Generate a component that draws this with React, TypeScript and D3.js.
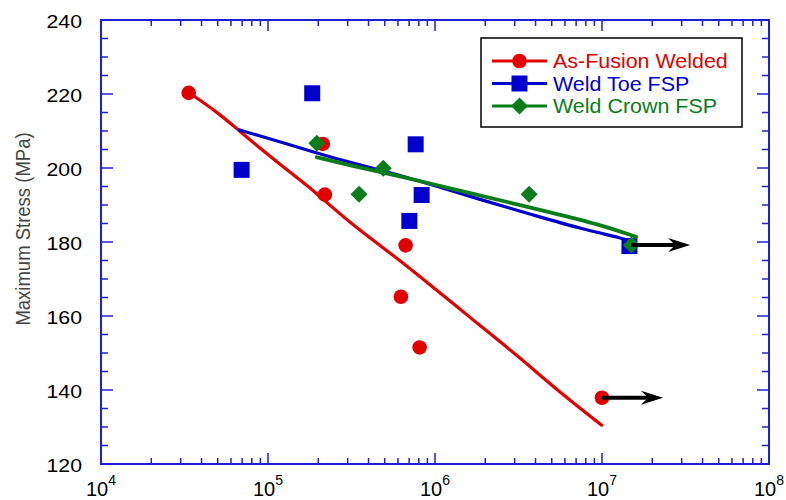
import React from 'react'
import * as d3 from 'd3'

const W = 786
const H = 500
const MARGIN = { top: 20, right: 17, bottom: 36, left: 101 }

const AXIS_COLOR = '#1f1fd6'
const FONT = '"Liberation Sans", Arial, sans-serif'

// As-Fusion Welded: test points (cycles, MPa)
const fusionN = [33500, 213000, 219000, 667000, 625000, 809000, 1.0e7]
const fusionS = [220.3, 206.5, 192.8, 179.1, 165.2, 151.5, 137.9]
// fitted curve
const fusionFitN = [33800, 49300, 66400, 93800, 135600, 186700, 309700, 562000, 1.023e6, 1.694e6, 3.08e6, 5.61e6, 9.95e6]
const fusionFitS = [220.3, 215.2, 210.3, 204.6, 198.8, 194.0, 185.1, 176.5, 167.0, 158.9, 149.5, 139.3, 130.5]

// Weld Toe FSP
const toeN = [69500, 184000, 766000, 832000, 702000, 1.46e7]
const toeS = [199.5, 220.2, 206.4, 192.7, 185.7, 178.9]
const toeFitN = [67300, 85500, 118000, 170600, 270000, 490000, 977000, 1.946e6, 3.88e6, 7.73e6, 1.34e7, 1.535e7]
const toeFitS = [210.3, 208.9, 207.1, 204.9, 202.2, 199.3, 195.4, 191.2, 187.3, 183.4, 181.0, 180.0]

// Weld Crown FSP
const crownN = [196000, 490000, 351000, 3.66e6, 1.5e7]
const crownS = [206.7, 199.9, 192.9, 192.9, 179.2]
const crownFitN = [196000, 309700, 616000, 1.23e6, 2.45e6, 4.89e6, 9.73e6, 1.6e7]
const crownFitS = [202.9, 200.7, 197.8, 194.5, 191.3, 188.0, 184.7, 181.4]

// run-out arrows
const arrowFromN = [1.0e7, 1.5e7]
const arrowToN = [2.32e7, 3.37e7]
const arrowS = [137.9, 179.2]

const legendLabels = ['As-Fusion Welded', 'Weld Toe FSP', 'Weld Crown FSP']
const colors = ['#e00000', '#0000cc', '#0a7d1a']

const yMajor = d3.range(120, 241, 20)
const yMinor = d3.range(120, 241, 5).filter((v) => v % 20 !== 0)
const xMajorExp = [4, 5, 6, 7, 8]

const zip = (a: number[], b: number[]) => a.map((v, i) => [v, b[i]] as [number, number])

const Marker = ({ type, x, y, color }: { type: number; x: number; y: number; color: string }) => {
  if (type === 0) return <circle cx={x} cy={y} r={7.3} fill={color} />
  if (type === 1) return <rect x={x - 8} y={y - 8} width={16} height={16} fill={color} />
  const d = 8.5
  return <path d={`M${x},${y - d}L${x + d},${y}L${x},${y + d}L${x - d},${y}Z`} fill={color} />
}

export default function App() {
  const x = d3.scaleLog().domain([1e4, 1e8]).range([MARGIN.left, W - MARGIN.right])
  const y = d3.scaleLinear().domain([120, 240]).range([H - MARGIN.bottom, MARGIN.top])
  const line = d3
    .line<[number, number]>()
    .x((d) => x(d[0]))
    .y((d) => y(d[1]))
    .curve(d3.curveBasis)

  const x0 = MARGIN.left
  const x1 = W - MARGIN.right
  const y0 = H - MARGIN.bottom
  const y1 = MARGIN.top

  const xMinor: number[] = []
  for (let e = 4; e < 8; e++) for (let k = 2; k <= 9; k++) xMinor.push(k * Math.pow(10, e))

  const series = [
    { pts: zip(fusionN, fusionS), fit: zip(fusionFitN, fusionFitS), width: 3.2 },
    { pts: zip(toeN, toeS), fit: zip(toeFitN, toeFitS), width: 3.2 },
    { pts: zip(crownN, crownS), fit: zip(crownFitN, crownFitS), width: 3.8 },
  ]

  const legend = { x: 481, y: 38, w: 261, h: 89 }
  const rowY = [61, 83.5, 106]

  return (
    <svg width={W} height={H} style={{ position: 'absolute', left: 0, top: 0, background: '#fff' }}>
      {/* frame */}
      <rect x={x0} y={y1} width={x1 - x0} height={y0 - y1} fill="none" stroke={AXIS_COLOR} strokeWidth={2} />

      {/* x ticks (bottom and top, inward) */}
      {xMinor.map((v) => (
        <g key={`xm${v}`} stroke={AXIS_COLOR} strokeWidth={1.5}>
          <line x1={x(v)} x2={x(v)} y1={y0} y2={y0 - 6} />
          <line x1={x(v)} x2={x(v)} y1={y1} y2={y1 + 6} />
        </g>
      ))}
      {xMajorExp.map((e) => (
        <g key={`xM${e}`} stroke={AXIS_COLOR} strokeWidth={1.5}>
          <line x1={x(Math.pow(10, e))} x2={x(Math.pow(10, e))} y1={y0} y2={y0 - 11} />
          <line x1={x(Math.pow(10, e))} x2={x(Math.pow(10, e))} y1={y1} y2={y1 + 11} />
        </g>
      ))}
      {/* y ticks (left and right, inward) */}
      {yMinor.map((v) => (
        <g key={`ym${v}`} stroke={AXIS_COLOR} strokeWidth={1.5}>
          <line x1={x0} x2={x0 + 7} y1={y(v)} y2={y(v)} />
          <line x1={x1} x2={x1 - 7} y1={y(v)} y2={y(v)} />
        </g>
      ))}
      {yMajor.map((v) => (
        <g key={`yM${v}`} stroke={AXIS_COLOR} strokeWidth={1.5}>
          <line x1={x0} x2={x0 + 12} y1={y(v)} y2={y(v)} />
          <line x1={x1} x2={x1 - 12} y1={y(v)} y2={y(v)} />
        </g>
      ))}

      {/* tick labels */}
      {yMajor.map((v) => (
        <g key={`yl${v}`} transform={`translate(${x0 - 19},${y(v) + 8}) scale(1.12,1)`}>
          <text textAnchor="end" fontFamily={FONT} fontSize={19} fill="#000">
            {v}
          </text>
        </g>
      ))}
      {xMajorExp.map((e) => (
        <text key={`xl${e}`} x={x(Math.pow(10, e))} y={496} textAnchor="middle" fontFamily={FONT} fontSize={20} fill="#000">
          10
          <tspan dy={-11} fontSize={14}>
            {e}
          </tspan>
        </text>
      ))}

      {/* y axis title */}
      <g transform={`translate(30,229) scale(1.1,1) rotate(-90)`}>
        <text textAnchor="middle" fontFamily={FONT} fontSize={18.5} fill="#444">
          Maximum Stress (MPa)
        </text>
      </g>

      {/* fits and points */}
      {series.map((s, i) => (
        <g key={`s${i}`}>
          <path d={line(s.fit) || ''} fill="none" stroke={colors[i]} strokeWidth={s.width} strokeLinejoin="round" strokeLinecap="round" />
          {s.pts.map((p, j) => (
            <Marker key={j} type={i} x={x(p[0])} y={y(p[1])} color={colors[i]} />
          ))}
        </g>
      ))}

      {/* run-out arrows */}
      {arrowFromN.map((n, i) => {
        const xs = x(n)
        const xe = x(arrowToN[i])
        const yy = y(arrowS[i])
        return (
          <g key={`a${i}`}>
            <line x1={xs} x2={xe - 10} y1={yy} y2={yy} stroke="#000" strokeWidth={4} />
            <path d={`M${xe},${yy}L${xe - 22},${yy - 7}L${xe - 15},${yy}L${xe - 22},${yy + 7}Z`} fill="#000" />
          </g>
        )
      })}

      {/* legend */}
      <rect x={legend.x} y={legend.y} width={legend.w} height={legend.h} fill="#fff" stroke="#000" strokeWidth={1.5} />
      {legendLabels.map((lab, i) => (
        <g key={lab}>
          <line x1={492} x2={547} y1={rowY[i]} y2={rowY[i]} stroke={colors[i]} strokeWidth={3.2} />
          <Marker type={i} x={519.5} y={rowY[i]} color={colors[i]} />
          <g transform={`translate(553,${rowY[i] + 7}) scale(1.1,1)`}>
            <text fontFamily={FONT} fontSize={19.5} fill={colors[i]}>
              {lab}
            </text>
          </g>
        </g>
      ))}
    </svg>
  )
}
